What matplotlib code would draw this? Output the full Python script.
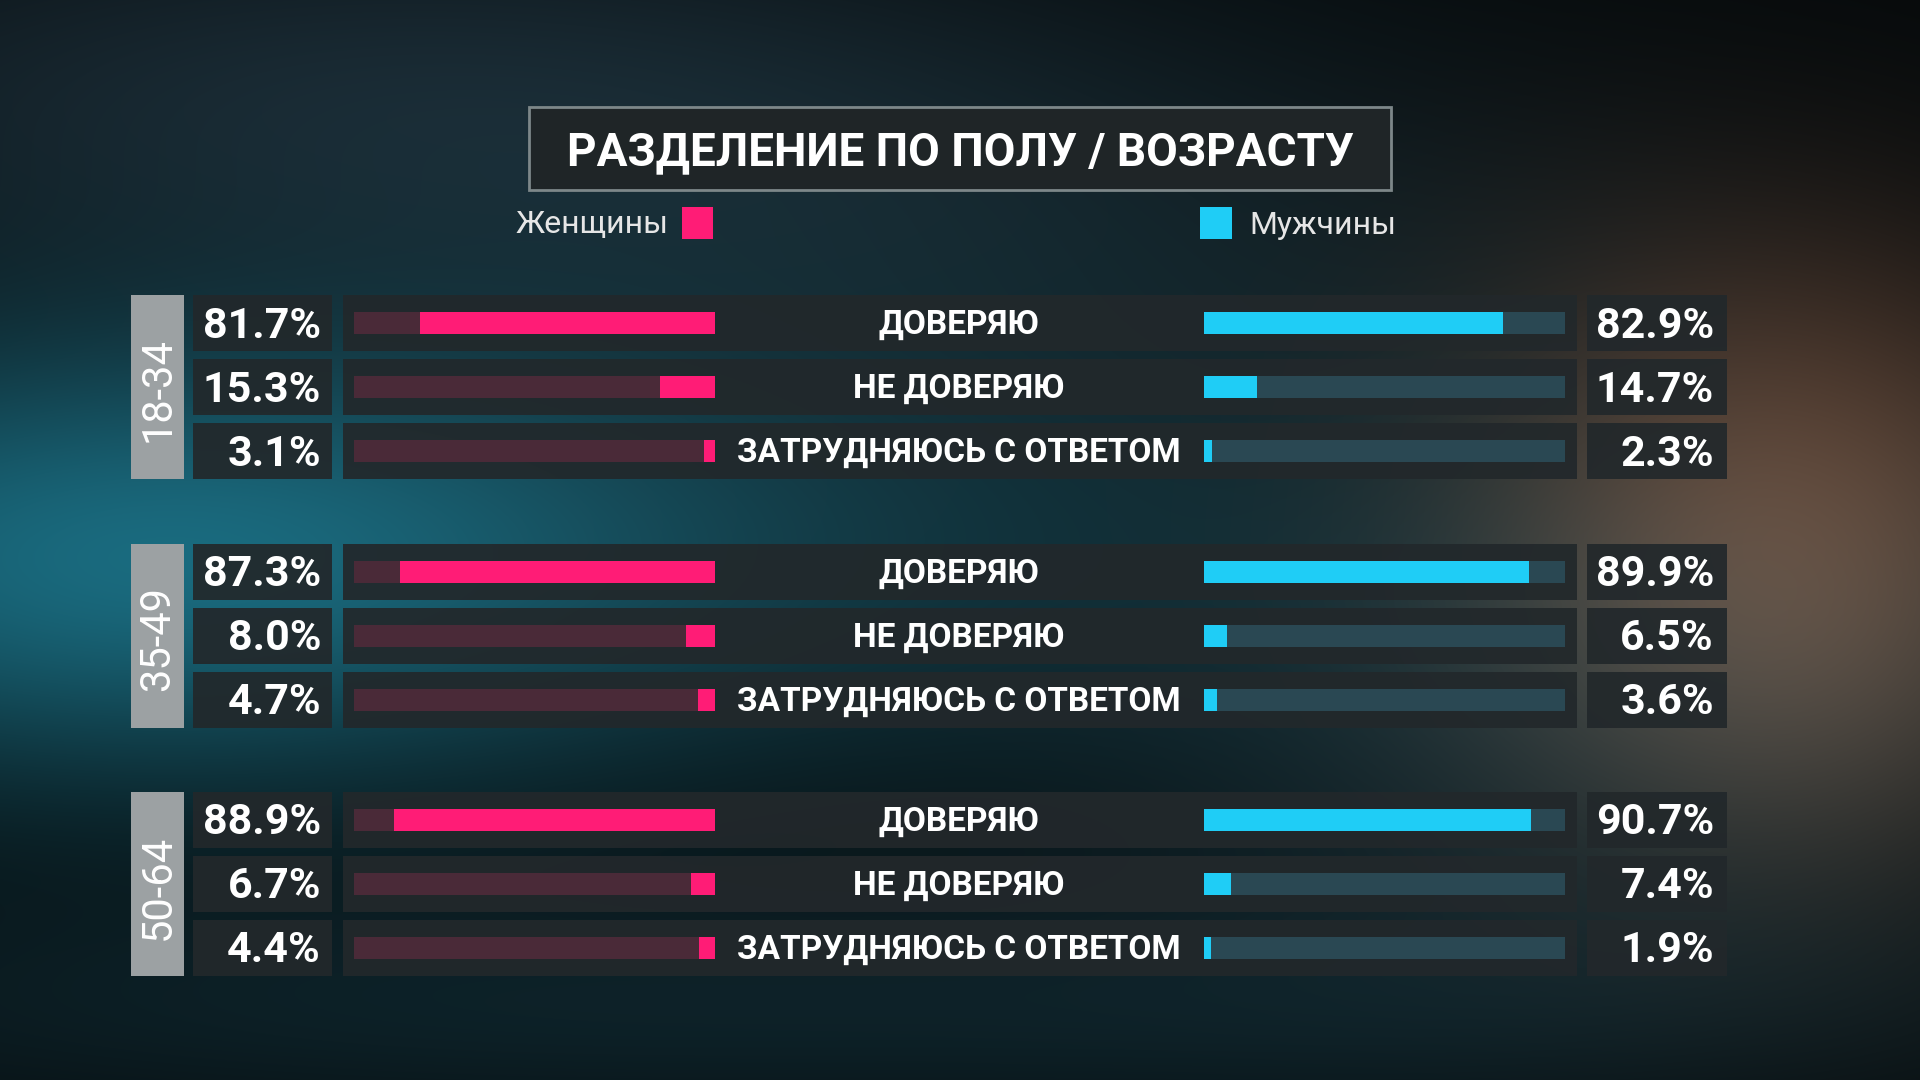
import numpy as np
import matplotlib.pyplot as plt
from matplotlib.patches import Rectangle

plt.rcParams['font.family'] = ['Roboto', 'DejaVu Sans']

# Данные опроса
age_groups = ['18-34', '35-49', '50-64']
answers = ['ДОВЕРЯЮ', 'НЕ ДОВЕРЯЮ', 'ЗАТРУДНЯЮСЬ С ОТВЕТОМ']
women = [[81.7, 15.3, 3.1],
         [87.3, 8.0, 4.7],
         [88.9, 6.7, 4.4]]
men = [[82.9, 14.7, 2.3],
       [89.9, 6.5, 3.6],
       [90.7, 7.4, 1.9]]
title = 'РАЗДЕЛЕНИЕ ПО ПОЛУ / ВОЗРАСТУ'
legend_women = 'Женщины'
legend_men = 'Мужчины'

PINK = '#ff1c76'
PINK_TRACK = '#4a2a38'
BLUE = '#1fcdf6'
BLUE_TRACK = '#2a4853'
PANEL = '#22282b'
AGE_BOX = '#9ca1a3'

W, H = 1920, 1080

# фон: размытые пятна света
yy, xx = np.mgrid[0:H, 0:W].astype(float)
img = np.zeros((H, W, 3)) + np.array([0.02, 0.035, 0.04])
def blob(cx, cy, sx, sy, col, k):
    g = np.exp(-(((xx - cx) / sx) ** 2 + ((yy - cy) / sy) ** 2) / 2)
    return g[..., None] * np.array(col) * k
img += blob(120, 560, 430, 160, (0.06, 0.32, 0.38), 0.95)
img += blob(900, 560, 900, 170, (0.06, 0.20, 0.24), 0.55)
img += blob(350, 90, 550, 140, (0.10, 0.16, 0.20), 0.7)
img += blob(1000, 250, 500, 150, (0.06, 0.12, 0.14), 0.6)
img += blob(1780, 480, 230, 190, (0.30, 0.15, 0.08), 0.9)
img += blob(1820, 700, 220, 180, (0.22, 0.18, 0.15), 0.6)
img += blob(700, 1010, 900, 90, (0.06, 0.18, 0.22), 0.5)
img += blob(1500, 800, 300, 180, (0.08, 0.16, 0.19), 0.4)
img = np.clip(img, 0, 1)

fig = plt.figure(figsize=(19.2, 10.8), dpi=100)
ax = fig.add_axes([0, 0, 1, 1])
ax.imshow(img, extent=[0, W, H, 0], aspect='auto')
ax.set_xlim(0, W)
ax.set_ylim(H, 0)
ax.axis('off')

# раскладка
row_y0, row_step, group_step = 323, 64, 248.5
panel_h, bar_h = 56, 22
rows_y = [[row_y0 + g * group_step + r * row_step for r in range(3)] for g in range(3)]

# заголовок
ax.add_patch(Rectangle((529, 107), 862, 83, facecolor='#1f2527', edgecolor='#7d8789', lw=2))
ax.text(960, 152, title, color='white', fontsize=33, fontweight='bold', ha='center', va='center')

# легенда
ax.text(669, 225, legend_women, color='#e6e6e6', fontsize=23, ha='right', va='center')
ax.add_patch(Rectangle((682, 207), 31, 32, facecolor=PINK))
ax.add_patch(Rectangle((1200, 207), 32, 32, facecolor=BLUE))
ax.text(1249, 225, legend_men, color='#e6e6e6', fontsize=23, ha='left', va='center')

for g, age in enumerate(age_groups):
    ys = rows_y[g]
    top = ys[0] - panel_h / 2
    bottom = ys[-1] + panel_h / 2
    ax.add_patch(Rectangle((131, top), 53, bottom - top, facecolor=AGE_BOX))
    ax.text(158, (top + bottom) / 2 + 3, age, color='white', fontsize=30,
            rotation=90, ha='center', va='center')
    for r, y in enumerate(ys):
        for x0, x1 in [(193, 332), (343, 1577), (1587, 1727)]:
            ax.add_patch(Rectangle((x0, y - panel_h / 2), x1 - x0, panel_h,
                                   facecolor=PANEL, alpha=0.92))
        ax.text(321, y + 3, f'{women[g][r]:.1f}%', color='white', fontsize=31,
                fontweight='bold', ha='right', va='center')
        ax.text(1714, y + 3, f'{men[g][r]:.1f}%', color='white', fontsize=31,
                fontweight='bold', ha='right', va='center')
        ax.text(959, y + 2, answers[r], color='white', fontsize=24,
                fontweight='bold', ha='center', va='center')

all_y = [y for ys in rows_y for y in ys]
w_vals = [v for vs in women for v in vs]
m_vals = [v for vs in men for v in vs]

# женщины: шкала справа налево
axw = fig.add_axes([354 / W, 0, (715 - 354) / W, 1])
axw.barh(all_y, [100] * len(all_y), height=bar_h, color=PINK_TRACK)
axw.barh(all_y, w_vals, height=bar_h, color=PINK)
axw.set_xlim(100, 0)
axw.set_ylim(H, 0)
axw.axis('off')

# мужчины
axm = fig.add_axes([1204 / W, 0, (1565 - 1204) / W, 1])
axm.barh(all_y, [100] * len(all_y), height=bar_h, color=BLUE_TRACK)
axm.barh(all_y, m_vals, height=bar_h, color=BLUE)
axm.set_xlim(0, 100)
axm.set_ylim(H, 0)
axm.axis('off')

fig.savefig('out.png', dpi=100)
